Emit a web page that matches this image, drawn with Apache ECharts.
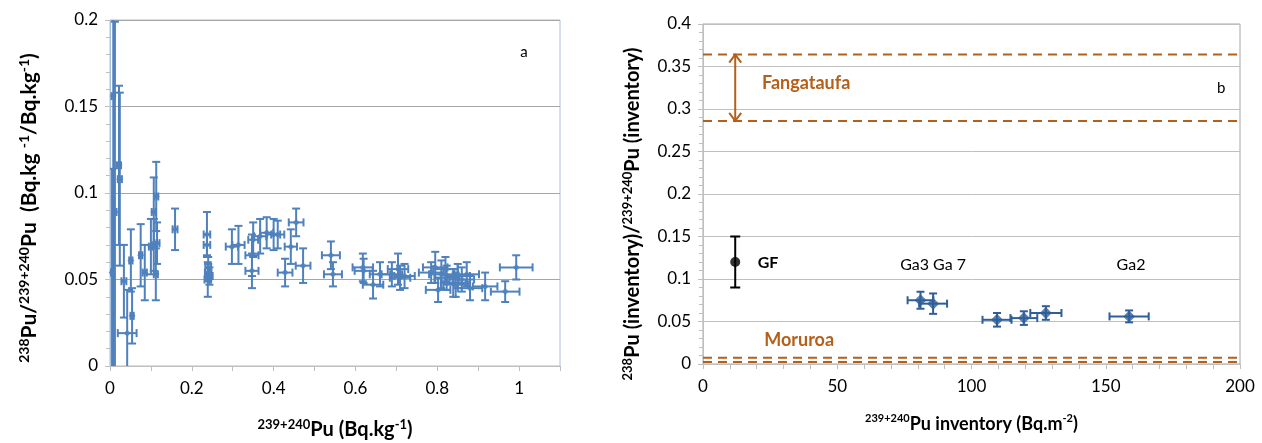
<!DOCTYPE html>
<html><head><meta charset="utf-8">
<script src="https://cdn.jsdelivr.net/npm/echarts@6/dist/echarts.min.js"></script>
<style>html,body{margin:0;padding:0;background:#fff}#c{width:1262px;height:443px}</style>
</head><body><div id="c"></div>
<script>
// ---- Panel a: 239+240Pu (Bq/kg) vs 238Pu/239+240Pu ----
const aX    = [0.008,0.012,0.005,0.022,0.024,0.034,0.042,0.051,0.054,0.075,0.085,0.100,0.107,0.113,0.107,0.112,0.115,0.159,
               0.237,0.237,0.240,0.240,0.239,0.243,
               0.298,0.314,0.347,0.347,0.350,0.367,0.383,0.400,0.410,0.428,0.442,0.455,0.472,
               0.540,0.545,0.618,0.620,0.643,0.660,0.689,0.704,0.709,0.720,
               0.785,0.795,0.802,0.810,0.820,0.823,0.839,0.845,0.850,0.860,0.872,0.880,0.917,0.966,0.993];
const aY    = [0.156,0.089,0.054,0.116,0.108,0.049,0.019,0.061,0.029,0.064,0.054,0.069,0.089,0.098,0.070,0.053,0.071,0.079,
               0.076,0.070,0.057,0.054,0.050,0.052,
               0.069,0.070,0.064,0.055,0.073,0.075,0.077,0.076,0.076,0.054,0.069,0.083,0.058,
               0.064,0.053,0.057,0.055,0.047,0.053,0.053,0.056,0.051,0.052,
               0.054,0.057,0.044,0.053,0.056,0.051,0.048,0.047,0.052,0.050,0.053,0.045,0.046,0.043,0.057];
const aXErr = [0.004,0.004,0.004,0.005,0.005,0.006,0.023,0.004,0.004,0.004,0.005,0.005,0.005,0.005,0.005,0.005,0.006,0.006,
               0.008,0.008,0.007,0.008,0.008,0.008,
               0.015,0.015,0.016,0.016,0.012,0.015,0.016,0.016,0.016,0.018,0.015,0.018,0.018,
               0.022,0.022,0.025,0.022,0.025,0.025,0.025,0.025,0.025,0.025,
               0.030,0.030,0.030,0.030,0.030,0.030,0.030,0.030,0.030,0.030,0.030,0.030,0.030,0.035,0.040];
const aYErr = [0.170,0.110,0.060,0.046,0.050,0.021,0.025,0.018,0.016,0.018,0.016,0.016,0.020,0.020,0.015,0.015,0.012,0.012,
               0.013,0.006,0.006,0.005,0.010,0.005,
               0.010,0.011,0.012,0.010,0.010,0.010,0.009,0.009,0.008,0.008,0.010,0.008,0.010,
               0.008,0.007,0.008,0.007,0.008,0.007,0.007,0.009,0.007,0.007,
               0.006,0.009,0.007,0.008,0.007,0.007,0.008,0.007,0.007,0.007,0.007,0.007,0.008,0.006,0.007];
const aXTicks = [0, 0.2, 0.4, 0.6, 0.8, 1];

// ---- Panel b: inventories ----
const gaX     = [81.0, 85.7, 109.5, 119.5, 127.7, 158.7];
const gaY     = [0.075, 0.071, 0.052, 0.054, 0.060, 0.056];
const gaXErr  = [4.8, 5.2, 5.4, 5.0, 5.8, 7.3];
const gaYErr  = [0.010, 0.012, 0.008, 0.008, 0.008, 0.007];
const gfX = [12], gfY = [0.12], gfYErr = [0.03];
const fangataufaRange = [0.286, 0.364];
const moruroaRange    = [0.0025, 0.0075];

const ORANGE = '#B5601A', BLUE_A = '#4F81BD', BLUE_B = '#2F5F98';
const FONT = 'Lato, "Open Sans", sans-serif';

function zipErr(x, y, ex, ey){ return x.map((v,i)=>[v, y[i], ex ? ex[i] : 0, ey ? ey[i] : 0]); }

function errRender(color, lw, cap){
  return function(params, api){
    const x = api.value(0), y = api.value(1), ex = api.value(2), ey = api.value(3);
    const st = {stroke: color, lineWidth: lw};
    const ch = [];
    if (ex > 0){
      const l = api.coord([x-ex, y]), r = api.coord([x+ex, y]);
      ch.push({type:'line', shape:{x1:l[0],y1:l[1],x2:r[0],y2:r[1]}, style:st});
      ch.push({type:'line', shape:{x1:l[0],y1:l[1]-cap,x2:l[0],y2:l[1]+cap}, style:st});
      ch.push({type:'line', shape:{x1:r[0],y1:r[1]-cap,x2:r[0],y2:r[1]+cap}, style:st});
    }
    if (ey > 0){
      const t = api.coord([x, y+ey]), b = api.coord([x, y-ey]);
      ch.push({type:'line', shape:{x1:t[0],y1:t[1],x2:b[0],y2:b[1]}, style:st});
      ch.push({type:'line', shape:{x1:t[0]-cap,y1:t[1],x2:t[0]+cap,y2:t[1]}, style:st});
      ch.push({type:'line', shape:{x1:b[0]-cap,y1:b[1],x2:b[0]+cap,y2:b[1]}, style:st});
    }
    return {type:'group', children: ch};
  };
}

function arrowRender(params, api){
  const x = api.value(0), y1 = api.value(1), y2 = api.value(2);
  const a = api.coord([x, y1]), b = api.coord([x, y2]);
  const st = {stroke: ORANGE, lineWidth: 2, fill: 'none'};
  const h = 8, w = 6;
  return {type:'group', children:[
    {type:'line', shape:{x1:a[0],y1:a[1],x2:b[0],y2:b[1]}, style:st},
    {type:'polyline', shape:{points:[[b[0]-w,b[1]+h],[b[0],b[1]],[b[0]+w,b[1]+h]]}, style:st},
    {type:'polyline', shape:{points:[[a[0]-w,a[1]-h],[a[0],a[1]],[a[0]+w,a[1]-h]]}, style:st}
  ]};
}

function nameStyle(main, sup, pad){
  return {fontSize: main, fontWeight: 'bold', fontFamily: FONT, color: '#000', padding: pad || 0,
    rich: {
      s: {fontSize: sup, fontWeight: 'bold', fontFamily: FONT, color: '#000', lineHeight: sup, verticalAlign: 'top'},
      b: {fontSize: main, fontWeight: 'bold', fontFamily: FONT, color: '#000', lineHeight: main + 4}
    }};
}

const chart = echarts.init(document.getElementById('c'), null, {renderer:'canvas'});
chart.setOption({
  animation: false,
  textStyle: {fontFamily: FONT},
  grid: [
    {left:110, top:20, width:450, height:346, show:true, borderColor:'#A7C0DE', borderWidth:1, containLabel:false, outerBoundsMode:'none'},
    {left:703, top:24, width:537, height:340, show:true, borderColor:'#A6A6A6', borderWidth:1, containLabel:false, outerBoundsMode:'none'}
  ],
  xAxis: [
    {type:'value', gridIndex:0, min:0, max:1.1, interval:0.2,
      name:'{s|239+240}{b|Pu (Bq.kg}{s|-1}{b|)}', nameLocation:'middle', nameGap:52,
      nameTextStyle: nameStyle(20, 13),
      axisLine:{show:true, onZero:false, lineStyle:{color:'#BFBFBF'}},
      axisTick:{show:true, inside:false, length:5, lineStyle:{color:'#BFBFBF'}},
      minorTick:{show:true, splitNumber:2, length:5, lineStyle:{color:'#BFBFBF'}},
      splitLine:{show:false},
      axisLabel:{fontSize:17, color:'#000', margin:14, fontFamily: FONT,
        formatter: v => aXTicks.some(t => Math.abs(t - v) < 1e-9) ? String(+v.toFixed(2)) : ''}},
    {type:'value', gridIndex:1, min:0, max:200, interval:50,
      name:'{s|239+240}{b|Pu inventory (Bq.m}{s|-2}{b|)}', nameLocation:'middle', nameGap:49,
      nameTextStyle: nameStyle(18, 11),
      axisLine:{show:true, onZero:false, lineStyle:{color:'#BFBFBF'}},
      axisTick:{show:true, inside:false, length:5, lineStyle:{color:'#BFBFBF'}},
      minorTick:{show:true, splitNumber:5, length:5, lineStyle:{color:'#BFBFBF'}},
      splitLine:{show:false},
      axisLabel:{fontSize:17, color:'#000', margin:14, fontFamily: FONT}}
  ],
  yAxis: [
    {type:'value', gridIndex:0, min:0, max:0.2, interval:0.05,
      name:'{s|238}{b|Pu/}{s|239+240}{b|Pu  (Bq.kg }{s|-1}{b|/Bq.kg}{s|-1}{b|)}', nameLocation:'middle', nameRotate:90, nameGap:68,
      nameTextStyle: nameStyle(21, 14, [0, 30, 0, 0]),
      axisLine:{show:true, lineStyle:{color:'#A7C0DE'}},
      axisTick:{show:true, inside:false, length:5, lineStyle:{color:'#BFBFBF'}},
      minorTick:{show:true, splitNumber:5, length:4, lineStyle:{color:'#BFBFBF'}},
      splitLine:{show:true, lineStyle:{color:'#A6A6A6', width:1}},
      axisLabel:{fontSize:17, color:'#000', margin:12, fontFamily: FONT}},
    {type:'value', gridIndex:1, min:0, max:0.4, interval:0.05,
      name:'{s|238}{b|Pu (inventory)/}{s|239+240}{b|Pu (inventory)}', nameLocation:'middle', nameRotate:90, nameGap:58,
      nameTextStyle: nameStyle(20, 13, [0, 40, 0, 0]),
      axisLine:{show:true, lineStyle:{color:'#BFBFBF'}},
      axisTick:{show:true, inside:false, length:5, lineStyle:{color:'#BFBFBF'}},
      minorTick:{show:true, splitNumber:5, length:4, lineStyle:{color:'#BFBFBF'}},
      splitLine:{show:true, lineStyle:{color:'#BFBFBF', width:1}},
      axisLabel:{fontSize:17, color:'#000', margin:12, fontFamily: FONT}}
  ],
  series: [
    // Panel a
    {type:'custom', xAxisIndex:0, yAxisIndex:0, clip:true, renderItem: errRender(BLUE_A, 2, 4),
      data: zipErr(aX, aY, aXErr, aYErr), z:2},
    {type:'scatter', xAxisIndex:0, yAxisIndex:0, symbol:'diamond', symbolSize:7,
      itemStyle:{color:BLUE_A}, data: aX.map((v,i)=>[v, aY[i]]), z:3},
    // Panel b: reference bands
    {type:'line', xAxisIndex:1, yAxisIndex:1, symbol:'none', silent:true,
      lineStyle:{color:ORANGE, width:2, type:[9,6]}, data:[[0,fangataufaRange[1]],[200,fangataufaRange[1]]]},
    {type:'line', xAxisIndex:1, yAxisIndex:1, symbol:'none', silent:true,
      lineStyle:{color:ORANGE, width:2, type:[9,6]}, data:[[0,fangataufaRange[0]],[200,fangataufaRange[0]]]},
    {type:'line', xAxisIndex:1, yAxisIndex:1, symbol:'none', silent:true,
      lineStyle:{color:ORANGE, width:2, type:[9,6]}, data:[[0,moruroaRange[1]],[200,moruroaRange[1]]]},
    {type:'line', xAxisIndex:1, yAxisIndex:1, symbol:'none', silent:true,
      lineStyle:{color:ORANGE, width:2, type:[9,6]}, data:[[0,moruroaRange[0]],[200,moruroaRange[0]]]},
    {type:'custom', xAxisIndex:1, yAxisIndex:1, renderItem: arrowRender,
      data:[[gfX[0], fangataufaRange[0], fangataufaRange[1]]]},
    // GF
    {type:'custom', xAxisIndex:1, yAxisIndex:1, renderItem: errRender('#000', 2, 5),
      data: zipErr(gfX, gfY, null, gfYErr)},
    {type:'scatter', xAxisIndex:1, yAxisIndex:1, symbol:'circle', symbolSize:10,
      itemStyle:{color:'#000'}, data: gfX.map((v,i)=>[v, gfY[i]])},
    // Ga
    {type:'custom', xAxisIndex:1, yAxisIndex:1, renderItem: errRender(BLUE_B, 2, 4),
      data: zipErr(gaX, gaY, gaXErr, gaYErr)},
    {type:'scatter', xAxisIndex:1, yAxisIndex:1, symbol:'diamond', symbolSize:12,
      itemStyle:{color:BLUE_B}, data: gaX.map((v,i)=>[v, gaY[i]])}
  ]
});

// Annotations anchored in data coordinates
const notes = [
  {t:'a',          g:0, x:1.012, y:0.1815, fs:15, fw:'normal', c:'#000'},
  {t:'b',          g:1, x:193,   y:0.325,  fs:15, fw:'normal', c:'#000'},
  {t:'GF',         g:1, x:24.2,  y:0.119,  fs:16, fw:'bold',   c:'#000'},
  {t:'Ga3 Ga 7',   g:1, x:85.7,  y:0.1165, fs:16, fw:'normal', c:'#000'},
  {t:'Ga2',        g:1, x:159.4, y:0.1165, fs:16, fw:'normal', c:'#000'},
  {t:'Fangataufa', g:1, x:38.4,  y:0.3306, fs:18, fw:'bold',   c:ORANGE},
  {t:'Moruroa',    g:1, x:35.8,  y:0.028,  fs:18, fw:'bold',   c:ORANGE}
];
chart.setOption({graphic: notes.map(n => {
  const p = chart.convertToPixel({gridIndex: n.g}, [n.x, n.y]);
  return {type:'text', x:p[0], y:p[1], z:100, silent:true,
    style:{text:n.t, fill:n.c, font: n.fw + ' ' + n.fs + 'px ' + FONT, align:'center', verticalAlign:'middle'}};
})});
</script></body></html>
